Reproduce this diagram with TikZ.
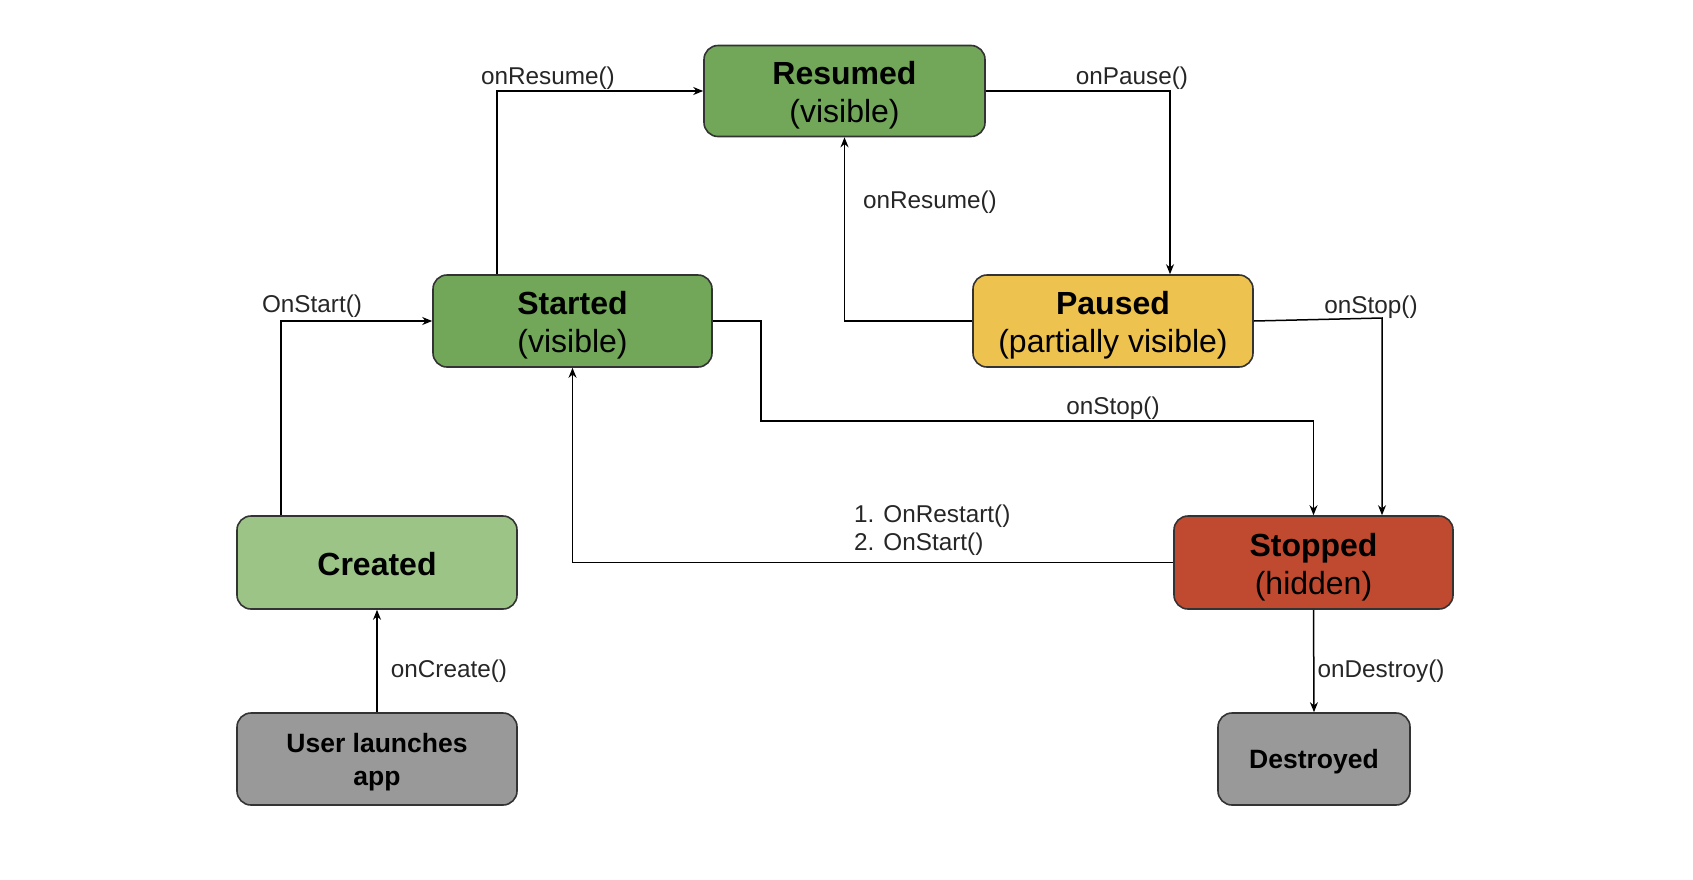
\documentclass[tikz,border=0pt]{standalone}
\usepackage{fontspec}
\setmainfont{Liberation Sans}
\usetikzlibrary{arrows.meta}
\definecolor{dgreen}{HTML}{72A659}
\definecolor{lgreen}{HTML}{9CC486}
\definecolor{pyellow}{HTML}{EDC24E}
\definecolor{sred}{HTML}{BF4A30}
\definecolor{bgray}{HTML}{999999}
\definecolor{edge}{HTML}{333333}
\newcommand{\pushA}{\rule{0pt}{32.3pt}}
\newcommand{\pushB}{\rule{0pt}{25.5pt}}
\newcommand{\pushC}{\rule{0pt}{25.3pt}}
\tikzset{
  state/.style={draw=edge, line width=1.6pt, rounded corners=14pt, align=center, inner sep=0pt,
    font=\fontsize{32}{38}\selectfont},
  endstate/.style={state, font=\fontsize{26.5}{32.4}\selectfont\bfseries, fill=bgray},
  conn/.style={draw=black, line width=1.5pt, -{Stealth[length=10pt,width=8pt]}},
  lbl/.style={font=\fontsize{24.3}{28}\selectfont, text=black!85, inner sep=0pt}
}
\begin{document}
\begin{tikzpicture}[x=1pt,y=-1pt]
\useasboundingbox (0,0) rectangle (1693,879);
\node[state, fill=dgreen, minimum width=281pt, minimum height=91pt] (resumed) at (844.5,91) {\pushA\textbf{Resumed}\\(visible)};
\node[state, fill=dgreen, minimum width=279pt, minimum height=92pt] (started) at (572.5,321) {\pushA\textbf{Started}\\(visible)};
\node[state, fill=pyellow, minimum width=280pt, minimum height=92pt] (paused) at (1113,321) {\pushA\textbf{Paused}\\(partially visible)};
\node[state, fill=lgreen, minimum width=280pt, minimum height=93pt] (created) at (377,562.5) {\pushB\textbf{Created}};
\node[state, fill=sred, minimum width=279pt, minimum height=93pt] (stopped) at (1313.5,562.5) {\pushA\textbf{Stopped}\\(hidden)};
\node[endstate, minimum width=280pt, minimum height=92pt] (user) at (377,759) {\pushC User launches\\app};
\node[endstate, minimum width=192pt, minimum height=92pt] (destroyed) at (1314,759) {\pushC Destroyed};

% connectors
\draw[conn] (user.north) -- (created.south);
\draw[conn] (created.north -| 281,0) |- (started.west);
\draw[conn] (started.north -| 497,0) |- (resumed.west);
\draw[conn] (resumed.east) -| (paused.north -| 1170,0);
\draw[conn] (paused.west) -| (resumed.south);
\draw[conn] (paused.east) -- (1382,318) -- (stopped.north -| 1382,0);
\draw[conn] (started.east) -- (761,321) -- (761,421) -| (stopped.north);
\draw[conn] (stopped.west) -| (started.south);
\draw[conn] (stopped.south) -- (destroyed.north);

% labels
\node[lbl] (l1) at (312,306) {OnStart()};
\node[lbl] (l2) at (548,78) {onResume()};
\node[lbl] (l3) at (1132,78) {onPause()};
\node[lbl] (l4) at (930,202) {onResume()};
\node[lbl] (l5) at (1371,307) {onStop()};
\node[lbl] (l6) at (1113,408) {onStop()};
\node[lbl, align=left, anchor=west] (l7) at (854,530) {1. OnRestart()\\2. OnStart()};
\node[lbl] (l8) at (449,671) {onCreate()};
\node[lbl] (l9) at (1381,671) {onDestroy()};
\end{tikzpicture}
\end{document}
